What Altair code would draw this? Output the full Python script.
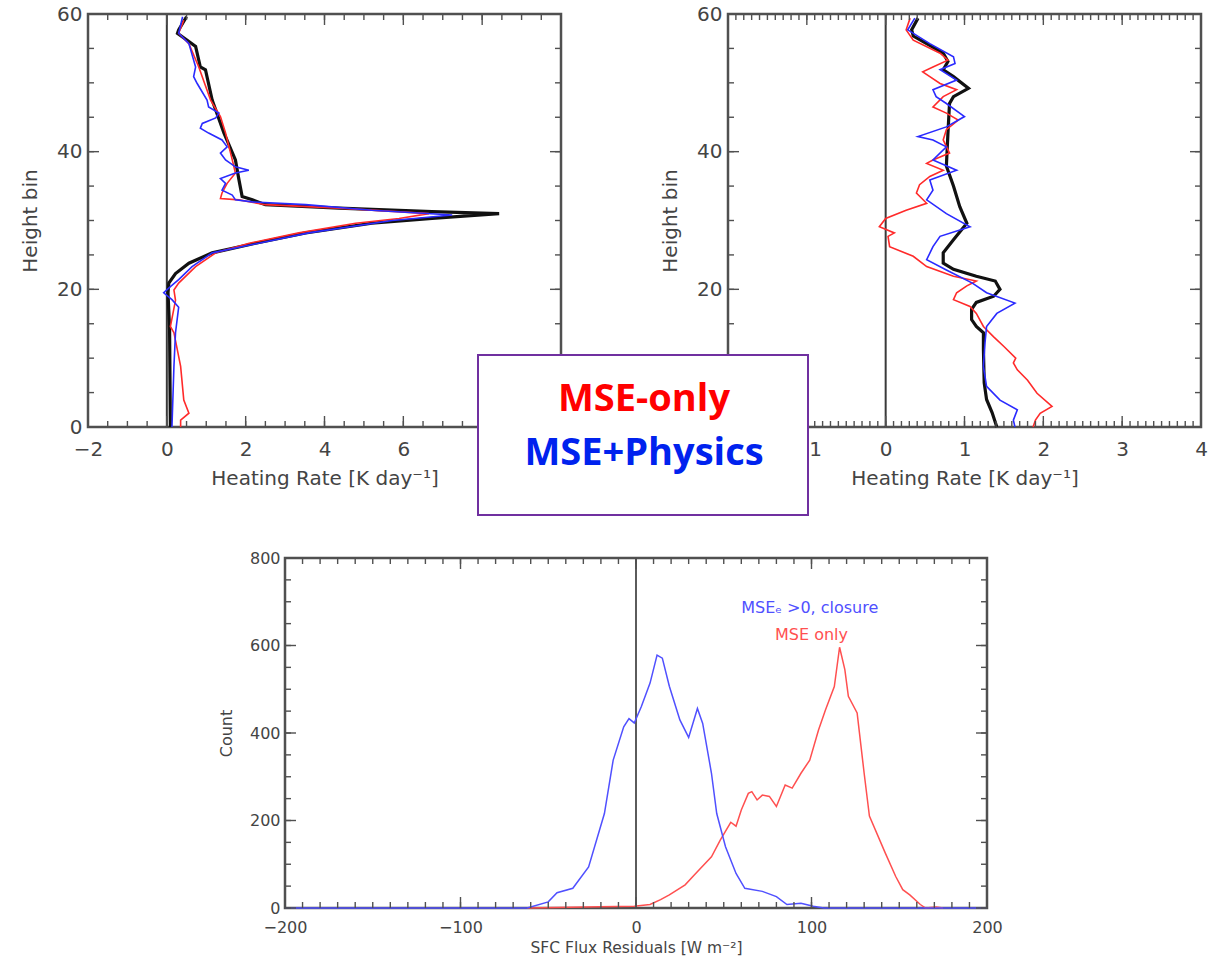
import altair as alt
import numpy as np
import pandas as pd

# ---------------- data ----------------
# Top-left panel: heating-rate profiles (height bin, K/day)
tl_black_h = [59.6, 57.7, 57.2, 56.0, 55.3, 52.3, 51.9, 47.5, 42.7, 38.8, 35.9, 33.5, 33.0, 32.3,
              31.8, 31.3, 31.0, 30.3, 29.6, 28.2, 26.7, 25.3, 23.8, 22.3, 20.9, 19.5, 14.0, 0.0]
tl_black_v = [0.50, 0.30, 0.27, 0.56, 0.73, 0.85, 0.98, 1.15, 1.45, 1.74, 1.83, 1.91, 2.17, 2.50,
              4.37, 6.73, 8.43, 6.73, 5.20, 3.52, 2.25, 1.15, 0.56, 0.22, 0.05, 0.03, 0.07, 0.09]

tl_red_h = [59.1, 57.2, 55.7, 52.3, 47.5, 45.1, 42.7, 38.8, 36.9, 35.4, 34.0, 33.2, 33.0, 32.3, 31.8,
            31.0, 30.3, 29.6, 28.2, 26.7, 25.3, 23.3, 20.9, 19.9, 18.4, 14.6, 13.7, 8.8, 3.9, 2.0, 1.0, 0.0]
tl_red_v = [0.43, 0.30, 0.56, 0.81, 1.11, 1.36, 1.49, 1.66, 1.74, 1.53, 1.40, 1.36, 1.83, 2.50, 4.37,
            6.65, 5.89, 4.79, 3.35, 2.09, 1.24, 0.73, 0.30, 0.18, 0.22, 0.09, 0.18, 0.35, 0.43, 0.56, 0.35, 0.35]

tl_blue_h = [59.6, 57.2, 55.7, 52.3, 50.9, 49.9, 47.5, 46.5, 45.6, 44.9, 44.1, 43.4, 42.7, 41.7, 40.7,
             39.8, 38.8, 37.8, 37.3, 36.9, 36.1, 35.4, 34.4, 33.7, 33.0, 32.7, 32.3, 31.5, 30.8, 30.0,
             28.2, 25.3, 23.3, 21.4, 20.4, 19.5, 18.5, 17.4, 13.7, 8.8, 0.0]
tl_blue_v = [0.40, 0.30, 0.56, 0.73, 0.68, 0.77, 1.02, 1.06, 1.32, 1.24, 0.90, 0.85, 1.06, 1.40, 1.53,
             1.36, 1.49, 1.74, 2.08, 1.74, 1.36, 1.49, 1.40, 1.66, 1.74, 2.17, 3.52, 5.20, 7.24, 5.72,
             3.60, 1.15, 0.64, 0.30, 0.09, -0.08, 0.13, 0.30, 0.22, 0.18, 0.13]

# Top-right panel
tr_black_h = [59.4, 57.7, 56.8, 55.7, 54.3, 53.1, 51.9, 50.9, 49.2, 48.0, 47.0, 42.7, 37.9, 35.0, 32.0,
              29.6, 27.2, 25.3, 23.8, 22.9, 21.9, 21.2, 20.0, 19.0, 18.1, 17.1, 15.6, 14.6, 13.7, 11.3,
              6.4, 4.0, 2.1, 0.0]
tr_black_v = [0.41, 0.33, 0.35, 0.52, 0.73, 0.79, 0.73, 0.86, 1.05, 0.86, 0.81, 0.79, 0.77, 0.86, 0.94,
              1.03, 0.86, 0.73, 0.73, 0.86, 1.15, 1.39, 1.45, 1.37, 1.15, 1.09, 1.09, 1.15, 1.24, 1.24,
              1.25, 1.28, 1.35, 1.41]

tr_red_h = [59.4, 57.7, 56.2, 54.3, 53.3, 52.3, 51.6, 50.9, 49.9, 49.0, 48.0, 46.5, 45.6, 44.6, 43.2,
            41.7, 39.8, 38.8, 38.3, 37.3, 36.4, 35.2, 34.0, 32.5, 31.5, 30.3, 29.1, 28.2, 27.7, 26.2,
            24.8, 23.3, 21.9, 21.2, 20.5, 19.5, 18.5, 17.5, 16.5, 14.6, 13.1, 11.7, 10.0, 9.3, 8.3,
            6.8, 4.9, 3.0, 2.0, 1.0, 0.0]
tr_red_v = [0.31, 0.26, 0.35, 0.69, 0.79, 0.60, 0.47, 0.56, 0.69, 0.90, 0.73, 0.60, 0.77, 0.92, 0.77,
            0.73, 0.81, 0.60, 0.52, 0.73, 0.56, 0.43, 0.39, 0.52, 0.26, 0.00, -0.08, 0.11, 0.03, 0.05,
            0.35, 0.52, 0.86, 1.15, 1.03, 0.90, 0.86, 1.07, 1.15, 1.24, 1.37, 1.50, 1.65, 1.62, 1.67,
            1.80, 1.92, 2.11, 1.96, 1.90, 1.87]

tr_blue_h = [59.4, 57.7, 55.7, 53.8, 52.8, 51.9, 50.4, 49.0, 48.0, 47.0, 45.1, 43.6, 42.2, 41.7, 40.7,
             38.8, 37.3, 35.9, 34.4, 33.0, 31.0, 29.1, 27.7, 26.2, 24.3, 22.8, 20.9, 19.5, 18.0, 16.5,
             14.6, 12.2, 8.8, 5.9, 3.9, 2.5, 1.0, 0.0]
tr_blue_v = [0.37, 0.28, 0.56, 0.86, 0.88, 0.69, 0.90, 0.60, 0.64, 0.77, 1.00, 0.77, 0.41, 0.60, 0.77,
             0.60, 0.90, 0.56, 0.60, 0.52, 0.77, 1.07, 0.69, 0.60, 0.52, 0.77, 1.10, 1.28, 1.64, 1.41,
             1.28, 1.26, 1.24, 1.28, 1.45, 1.67, 1.62, 1.64]

# Bottom panel: histogram of surface flux residuals
bt_blue_x = [-200, -62, -50, -45, -36, -27, -18, -13, -7, -4, -1, 3, 8, 12, 15, 19, 25, 30, 35, 38,
             43, 46, 51, 57, 62, 72, 80, 86, 94, 101, 107, 200]
bt_blue_c = [0, 0, 14, 35, 45, 94, 216, 338, 414, 433, 423, 460, 514, 578, 571, 507, 430, 390, 456, 422,
             308, 216, 140, 79, 45, 38, 26, 8, 11, 4, 0, 0]
bt_red_x = [-62, -21, -1, 8, 14, 19, 28, 34, 43, 48, 54, 57, 60, 64, 66, 69, 72, 76, 80, 85, 89, 94,
            99, 104, 108, 113, 116, 119, 121, 126, 130, 133, 142, 148, 152, 156, 162, 165, 171, 175]
bt_red_c = [0, 3, 4, 8, 19, 30, 53, 79, 117, 155, 196, 187, 224, 262, 266, 247, 258, 255, 232, 281, 274,
            308, 338, 407, 453, 506, 596, 545, 484, 446, 308, 210, 126, 72, 42, 30, 8, 0, 2, 0]

# Tick positions and the tick labels left visible by the legend box
tl_xticks = [-2, 0, 2, 4, 6, 8, 10]
tl_xlabels = [-2, 0, 2, 4, 6]
tr_xticks = [-2, -1, 0, 1, 2, 3, 4]
tr_xlabels = [-1, 0, 1, 2, 3, 4]
top_yticks = [0, 20, 40, 60]
tl_ylabels = [0, 20, 40, 60]
tr_ylabels = [20, 40, 60]
bt_xticks = [-200, -100, 0, 100, 200]
bt_yticks = [0, 200, 400, 600, 800]

legend_labels = ["MSE-only", "MSE+Physics"]
hist_labels = ["MSE\u2091 >0, closure", "MSE only"]
hist_label_x = [99, 100]
hist_label_y = [686, 624]

# ---------------- styling ----------------
FONT = "DejaVu Sans"
TXT = "#444444"
FRAME = "#505050"
RED = "#ff2a2a"
BLUE = "#2a2aff"
BRED = "#ff5050"
BBLUE = "#5050ff"

TW, TH = 473, 413        # top panels plot area
BW, BH = 702, 350        # bottom panel plot area
MAJ, MIN = 11, 6         # inward tick lengths


def profile(h, v):
    return pd.DataFrame({"h": h, "v": v, "o": range(len(h))})


def inner_ticks(xs, ys, xa, ya, W, H, xmaj, xmin, ymaj, ymin):
    out = []
    for vals, L in ((xmaj, MAJ), (xmin, MIN)):
        d = pd.DataFrame({"t": vals})
        b = alt.Chart(d).mark_rule(color=FRAME, strokeWidth=1.4)
        out.append(b.encode(x=alt.X("t:Q", scale=xs, axis=xa), y=alt.value(H), y2=alt.value(H - L)))
        out.append(b.encode(x=alt.X("t:Q", scale=xs, axis=xa), y=alt.value(0), y2=alt.value(L)))
    for vals, L in ((ymaj, MAJ), (ymin, MIN)):
        d = pd.DataFrame({"t": vals})
        b = alt.Chart(d).mark_rule(color=FRAME, strokeWidth=1.4)
        out.append(b.encode(y=alt.Y("t:Q", scale=ys, axis=ya), x=alt.value(0), x2=alt.value(L)))
        out.append(b.encode(y=alt.Y("t:Q", scale=ys, axis=ya), x=alt.value(W), x2=alt.value(W - L)))
    return out


def top_panel(xdom, xticks, xlabels, ylabels, xminor, series, W, H):
    xs = alt.Scale(domain=xdom, nice=False, zero=False)
    ys = alt.Scale(domain=[0, 60], nice=False, zero=False)
    xa = alt.Axis(values=xlabels, title="Heating Rate [K day\u207b\u00b9]", labelFontSize=20,
                  titleFontSize=20, labelPadding=12, titleX=W / 2, titleY=51,
                  titleBaseline="middle", titleAlign="center")
    ya = alt.Axis(values=ylabels, title="Height bin", labelFontSize=20, titleFontSize=20,
                  labelPadding=6, titleAngle=270, titleX=-58, titleY=H / 2,
                  titleBaseline="middle", titleAlign="center")
    layers = [alt.Chart(pd.DataFrame({"z": [0]})).mark_rule(color="#3a3a3a", strokeWidth=2).encode(
        x=alt.X("z:Q", scale=xs, axis=xa))]
    for (h, v), color, width in series:
        layers.append(alt.Chart(profile(h, v)).mark_line(color=color, strokeWidth=width).encode(
            x=alt.X("v:Q", scale=xs, axis=xa),
            y=alt.Y("h:Q", scale=ys, axis=ya),
            order="o:Q"))
    layers += inner_ticks(xs, ys, xa, ya, W, H, xticks, xminor, top_yticks, list(range(0, 61, 5)))
    return layers


tl_layers = top_panel([-2, 10], tl_xticks, tl_xlabels, tl_ylabels, list(np.arange(-2, 10.01, 0.5)),
                      [((tl_black_h, tl_black_v), "#111111", 3.2),
                       ((tl_red_h, tl_red_v), RED, 1.6),
                       ((tl_blue_h, tl_blue_v), BLUE, 1.6)], TW, TH)
tl = alt.layer(*tl_layers).properties(width=TW, height=TH)

tr_layers = top_panel([-2, 4], tr_xticks, tr_xlabels, tr_ylabels,
                      list(np.round(np.arange(-2, 4.001, 0.1), 2)),
                      [((tr_black_h, tr_black_v), "#111111", 3.2),
                       ((tr_red_h, tr_red_v), RED, 1.6),
                       ((tr_blue_h, tr_blue_v), BLUE, 1.6)], TW, TH)

# Overlay legend box (annotation spanning both top panels)
one = pd.DataFrame({"a": [0]})
box = alt.Chart(one).mark_rect(fill="white", stroke="#7030a0", strokeWidth=2).encode(
    x=alt.value(-250), x2=alt.value(80), y=alt.value(341), y2=alt.value(501))
lab1 = alt.Chart(one).mark_text(text=legend_labels[0], font="Open Sans", fontWeight="bold",
                                fontSize=38, color="#ff0000", align="center",
                                baseline="alphabetic").encode(x=alt.value(-84), y=alt.value(397))
lab2 = alt.Chart(one).mark_text(text=legend_labels[1], font="Open Sans", fontWeight="bold",
                                fontSize=38, color="#0022ee", align="center",
                                baseline="alphabetic").encode(x=alt.value(-84), y=alt.value(451))
tr = alt.layer(*tr_layers, box, lab1, lab2).properties(width=TW, height=TH)

# Bottom panel
bxs = alt.Scale(domain=[-200, 200], nice=False, zero=False)
bys = alt.Scale(domain=[0, 800], nice=False, zero=False)
bxa = alt.Axis(values=bt_xticks, title="SFC Flux Residuals [W m\u207b\u00b2]", labelFontSize=16,
               titleFontSize=15.5, labelPadding=11, titleX=BW / 2, titleY=39,
               titleBaseline="middle", titleAlign="center")
bya = alt.Axis(values=bt_yticks, title="Count", labelFontSize=16, titleFontSize=16, labelPadding=5,
               titleAngle=270, titleX=-59, titleY=BH / 2, titleBaseline="middle", titleAlign="center")
b_zero = alt.Chart(pd.DataFrame({"z": [0]})).mark_rule(color="#333333", strokeWidth=1.6).encode(
    x=alt.X("z:Q", scale=bxs, axis=bxa))
b_red = alt.Chart(pd.DataFrame({"x": bt_red_x, "c": bt_red_c})).mark_line(
    color=BRED, strokeWidth=1.5).encode(
    x=alt.X("x:Q", scale=bxs, axis=bxa), y=alt.Y("c:Q", scale=bys, axis=bya))
b_blue = alt.Chart(pd.DataFrame({"x": bt_blue_x, "c": bt_blue_c})).mark_line(
    color=BBLUE, strokeWidth=1.5).encode(
    x=alt.X("x:Q", scale=bxs, axis=bxa), y=alt.Y("c:Q", scale=bys, axis=bya))
b_text = alt.Chart(pd.DataFrame({"x": hist_label_x, "y": hist_label_y, "t": hist_labels,
                                 "col": [BBLUE, BRED]})).mark_text(
    font=FONT, fontSize=16, align="center", baseline="middle").encode(
    x=alt.X("x:Q", scale=bxs, axis=bxa), y=alt.Y("y:Q", scale=bys, axis=bya),
    text="t:N", color=alt.Color("col:N", scale=None))
b_ticks = inner_ticks(bxs, bys, bxa, bya, BW, BH, bt_xticks, list(range(-200, 201, 10)),
                      bt_yticks, list(range(0, 801, 50)))
bottom = alt.layer(b_zero, b_red, b_blue, b_text, *b_ticks).properties(width=BW, height=BH)

spacer = alt.Chart(one, view=alt.ViewBackground(stroke="transparent")).mark_point(
    opacity=0).properties(width=197, height=BH)

top_row = alt.hconcat(tl, tr, spacing=167, bounds="flush")
bot_row = alt.hconcat(spacer, bottom, spacing=0, bounds="flush")

# nested flush rows have no height of their own, so the spacing spans the top row too
chart = alt.vconcat(top_row, bot_row, spacing=TH + 131, bounds="flush").properties(
    padding={"left": 18, "top": 2, "right": 0, "bottom": 0},
    background="white",
).configure_view(stroke=FRAME, strokeWidth=2.5).configure_axis(
    labelFont=FONT, titleFont=FONT, labelColor=TXT, titleColor=TXT, titleFontWeight="normal",
    grid=False, domain=False, ticks=False, tickSize=0, labelFlush=False, labelOverlap=False,
)

chart.save("out.html", embed_options={"renderer": "svg", "actions": False})
